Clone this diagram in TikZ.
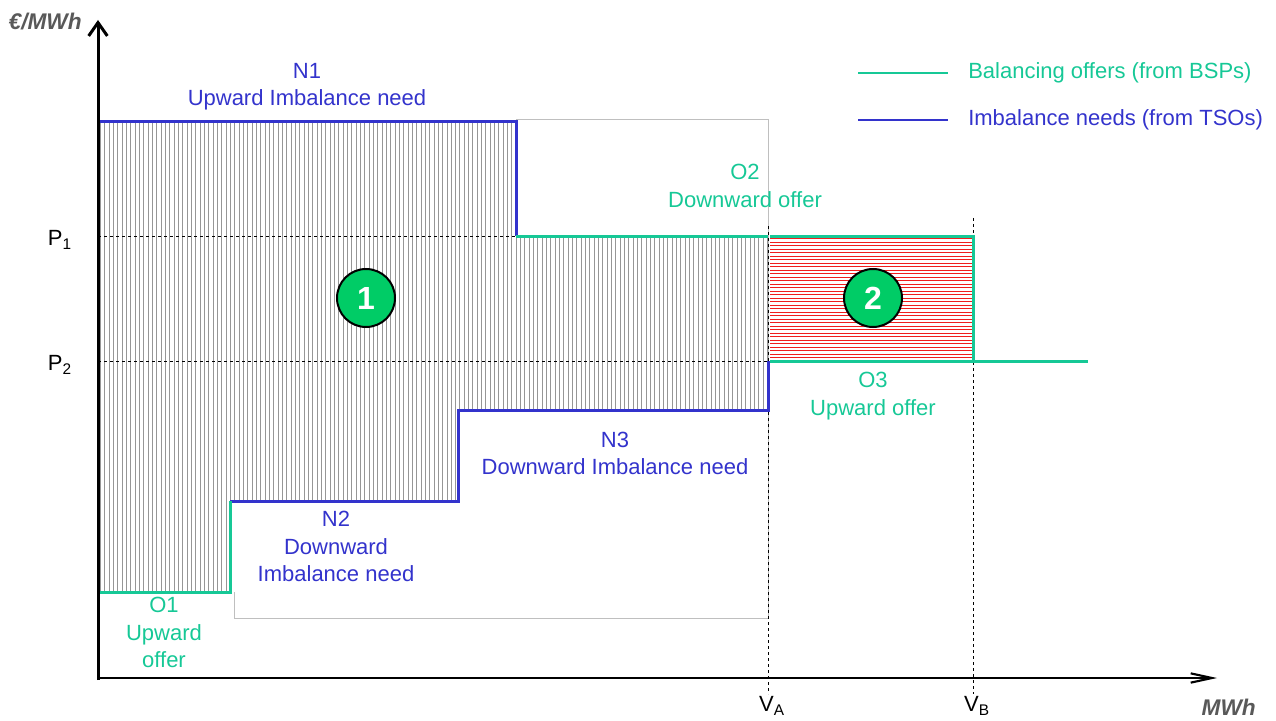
\documentclass[tikz,border=0pt]{standalone}
\usepackage{fontspec}
\setmainfont{Liberation Sans}
\usetikzlibrary{arrows.meta}
\definecolor{offgreen}{RGB}{22,200,150}
\definecolor{needblue}{RGB}{51,51,204}
\definecolor{circgreen}{RGB}{0,204,102}
\definecolor{axisgray}{RGB}{89,89,89}
\definecolor{hatchgray}{RGB}{150,150,150}
\definecolor{hatchred}{RGB}{240,30,30}
\begin{document}
\begin{tikzpicture}[x=0.75pt,y=-0.75pt,
  lbl/.style={font=\fontsize{16.5pt}{20.5pt}\selectfont, align=center, inner sep=0pt},
  offertxt/.style={lbl, text=offgreen},
  needtxt/.style={lbl, text=needblue},
  offerline/.style={draw=offgreen, line width=2.25pt},
  needline/.style={draw=needblue, line width=2.25pt},
  guide/.style={draw=black, line width=0.7pt, dash pattern=on 2.5pt off 2pt},
  frameline/.style={draw=black!25, line width=0.75pt},
  vhatch/.style={draw=hatchgray, line width=0.6pt},
  rhatch/.style={draw=hatchred, line width=0.6pt},
  badge/.style={circle, draw=black, line width=1.5pt, fill=circgreen, minimum size=43.5pt, inner sep=0pt, text=white, font=\fontsize{24pt}{26pt}\selectfont\bfseries},
  axisline/.style={draw=black, line width=2.25pt},
  axislabel/.style={font=\fontsize{17pt}{19pt}\selectfont\bfseries\itshape, text=axisgray, inner sep=0pt},
]
\useasboundingbox (0,0) rectangle (1276,720);

% key coordinates
\coordinate (O) at (98,678);
\coordinate (Ytop) at (98,20);
\coordinate (Xend) at (1217,678);
\coordinate (a) at (98,122);
\coordinate (b) at (516,122);
\coordinate (c) at (516,236);
\coordinate (d) at (768,236);
\coordinate (e) at (768,361);
\coordinate (f) at (768,410);
\coordinate (g) at (458,410);
\coordinate (h) at (458,501);
\coordinate (i) at (230,501);
\coordinate (j) at (230,592);
\coordinate (k) at (98,592);
\coordinate (r1) at (770,236);
\coordinate (r2) at (973,236);
\coordinate (r3) at (973,361);
\coordinate (r4) at (770,361);
\coordinate (o3end) at (1088,361);

% hatched surplus area 1
\begin{scope}
  \clip (a) -- (b) -- (c) -- (d) -- (f) -- (g) -- (h) -- (i) -- (j) -- (k) -- cycle;
  \foreach \n in {0,...,156} {
    \draw[vhatch] (100.5+4.33*\n,110) -- ++(0,500);
  }
\end{scope}

% hatched area 2
\begin{scope}
  \clip (r1) rectangle (r3);
  \foreach \n in {0,...,36} {
    \draw[rhatch] (760,238.5+3.5*\n) -- ++(230,0);
  }
\end{scope}

% light frame
\coordinate (fr1) at (234,592);
\coordinate (fr2) at (234,618);
\coordinate (fr3) at (768,618);
\coordinate (fr4) at (768,120);
\coordinate (fr5) at (516,120);
\draw[frameline] (fr1) -- (fr2) -- (fr3) -- (fr4) -- (fr5);

% dashed guides
\coordinate (p1s) at (98,236);
\coordinate (p2s) at (98,361);
\coordinate (vat) at (768,226);
\coordinate (vab) at (768,694);
\coordinate (vbt) at (973,218);
\coordinate (vbb) at (973,694);
\draw[guide] (p1s) -- (d);
\draw[guide] (p2s) -- (e);
\draw[guide] (vat) -- (vab);
\draw[guide] (vbt) -- (vbb);

% imbalance needs (blue)
\draw[needline] (a) -- (b) -- (c);
\draw[needline] (e) -- (f) -- (g) -- (h) -- (i);

% balancing offers (green)
\draw[offerline] (c) -- (d);
\draw[offerline] (i) -- (j) -- (k);
\draw[offerline] (r1) -- (r2) -- (r3);
\draw[offerline] (r4) -- (o3end);

% axes
\draw[axisline, -{Straight Barb[length=10pt,width=14pt]}] (98,680) -- (Ytop);
\draw[draw=black, line width=1.6pt, -{Straight Barb[length=16pt,width=7pt]}] (97,678) -- (Xend);

% badges
\node[badge] (c1) at (366,298) {1};
\node[badge] (c2) at (873,298) {2};

% texts
\node[needtxt] (n1) at (307,87) {N1\\Upward Imbalance need};
\node[needtxt] (n2) at (336,546.5) {N2\\Downward\\Imbalance need};
\node[needtxt] (n3) at (615,453.5) {N3\\Downward Imbalance need};
\node[offertxt] (o1) at (164,632.5) {O1\\Upward\\offer};
\node[offertxt] (o2) at (745,186) {O2\\Downward offer};
\node[offertxt] (o3) at (873,396) {O3\\Upward offer};

\node[lbl, anchor=east] (p1) at (72,240) {P\textsubscript{1}};
\node[lbl, anchor=east] (p2) at (72,365) {P\textsubscript{2}};
\node[lbl] (va) at (772,706) {V\textsubscript{A}};
\node[lbl] (vb) at (977,706) {V\textsubscript{B}};

\node[axislabel, anchor=east] (ylab) at (82,22) {€/MWh};
\node[axislabel, anchor=east] (xlab) at (1256,707) {MWh};

% legend
\coordinate (lg1a) at (858,73);
\coordinate (lg1b) at (948,73);
\coordinate (lg2a) at (858,120);
\coordinate (lg2b) at (948,120);
\draw[offerline, line width=1.9pt] (lg1a) -- (lg1b);
\draw[needline, line width=1.9pt] (lg2a) -- (lg2b);
\node[offertxt, anchor=west] (leg1) at (968,73) {Balancing offers (from BSPs)};
\node[needtxt, anchor=west] (leg2) at (968,120) {Imbalance needs (from TSOs)};
\end{tikzpicture}
\end{document}
